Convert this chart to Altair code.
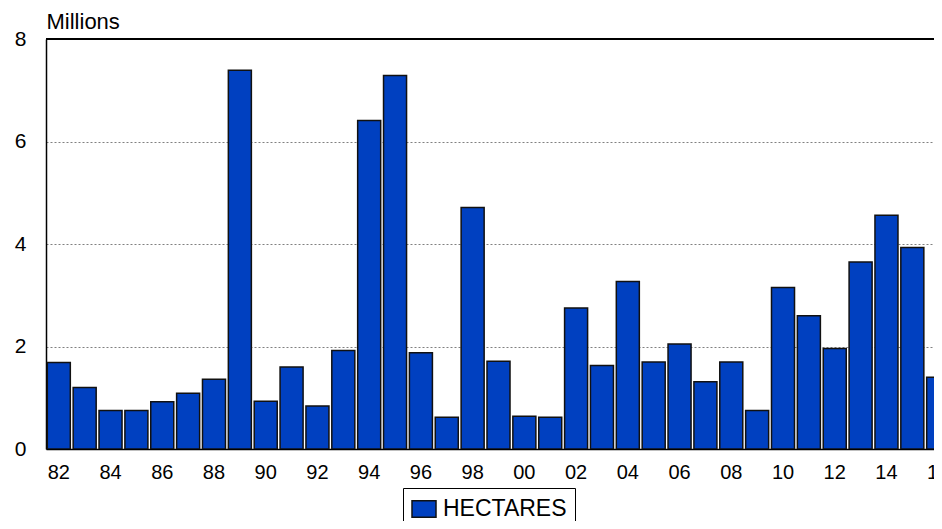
import altair as alt
import pandas as pd

# Area (millions of hectares) by crop year.
YEARS = [
    "82", "83", "84", "85", "86", "87", "88", "89", "90", "91", "92", "93",
    "94", "95", "96", "97", "98", "99", "00", "01", "02", "03", "04", "05",
    "06", "07", "08", "09", "10", "11", "12", "13", "14", "15", "16",
]
HECTARES = [
    1.69, 1.20, 0.75, 0.75, 0.92, 1.09, 1.36, 7.39, 0.93, 1.60, 0.84, 1.92,
    6.41, 7.29, 1.88, 0.62, 4.71, 1.71, 0.64, 0.62, 2.75, 1.63, 3.27, 1.70,
    2.05, 1.31, 1.70, 0.75, 3.15, 2.60, 1.96, 3.65, 4.56, 3.93, 1.40,
]
TICK_YEARS = ["82", "84", "86", "88", "90", "92", "94", "96", "98", "00",
              "02", "04", "06", "08", "10", "12", "14", "16"]
Y_TICKS = [0, 2, 4, 6, 8]
SERIES = "HECTARES"

BLUE = "#0040C0"
FONT = "Liberation Sans, Arial, sans-serif"

df = pd.DataFrame({"Year": YEARS, "Hectares": HECTARES, "Series": SERIES})

# The band range runs past the view on purpose: the last bar is cut at the edge.
bars = (
    alt.Chart(df)
    .mark_bar(stroke="#111111", strokeWidth=1.5, clip=True)
    .encode(
        x=alt.X(
            "Year:N",
            sort=YEARS,
            title=None,
            scale=alt.Scale(range=[0, 905], paddingInner=0.11, paddingOuter=0.05),
            axis=alt.Axis(
                values=TICK_YEARS,
                labelAngle=0,
                labelFontSize=20,
                labelPadding=13,
                labelColor="black",
                ticks=False,
                domainColor="black",
                domainWidth=1.5,
                labelFont=FONT,
            ),
        ),
        y=alt.Y(
            "Hectares:Q",
            scale=alt.Scale(domain=[0, 8]),
            axis=alt.Axis(
                values=Y_TICKS,
                title="Millions",
                titleAngle=0,
                titleX=0,
                titleY=-11,
                titleAlign="left",
                titleBaseline="alphabetic",
                titleFontSize=22,
                titleFontWeight="normal",
                titleFont=FONT,
                titleColor="black",
                labelFontSize=21,
                labelFont=FONT,
                labelColor="black",
                labelPadding=20,
                ticks=False,
                domainColor="black",
                domainWidth=1.5,
                gridColor="#808080",
                gridDash=[2, 2],
                gridWidth=1,
            ),
        ),
        color=alt.Color(
            "Series:N",
            scale=alt.Scale(domain=[SERIES], range=[BLUE]),
            legend=alt.Legend(
                title=None,
                orient="none",
                legendX=357,
                legendY=449,
                padding=8,
                fillColor="white",
                strokeColor="black",
                symbolType="M-1,-0.68L1,-0.68L1,0.68L-1,0.68Z",
                symbolSize=576,
                symbolStrokeColor="#111111",
                symbolStrokeWidth=1.5,
                symbolOpacity=1,
                labelFontSize=23,
                labelFont=FONT,
                labelColor="black",
                labelOffset=6,
                labelExpr="datum.label + '\u00a0\u00a0\u00a0'",
            ),
        ),
    )
)

top_border = (
    alt.Chart(df)
    .mark_rule(color="black", strokeWidth=2)
    .encode(y=alt.datum(8))
)

chart = (
    alt.layer(bars, top_border)
    .properties(
        width=888,
        height=410,
        autosize=alt.AutoSizeParams(type="none"),
        padding={"left": 38, "top": 31, "right": 0, "bottom": 72},
    )
    .configure(background="white", font=FONT)
    .configure_view(stroke=None)
)

chart.save("out.html", embed_options={"renderer": "svg", "actions": False})
